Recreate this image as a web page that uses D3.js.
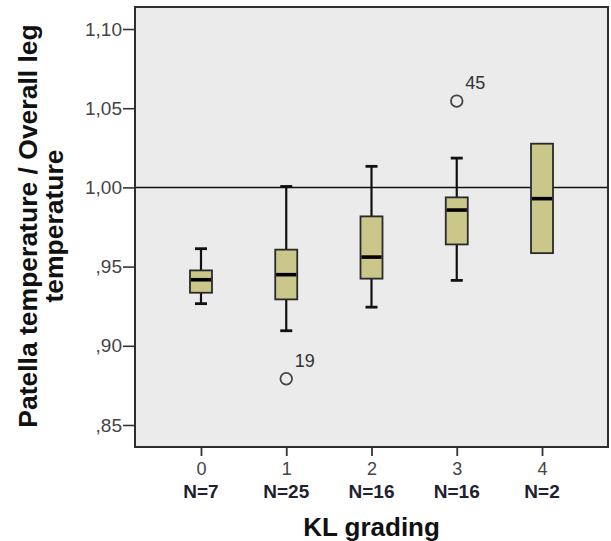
<!DOCTYPE html>
<html>
<head>
<meta charset="utf-8">
<script src="https://cdn.jsdelivr.net/npm/d3@7"></script>
<style>
  html, body { margin: 0; padding: 0; background: #ffffff; }
  svg { display: block; }
</style>
</head>
<body>
<svg id="chart" width="611" height="541"></svg>
<script>
// KL grade groups and their summary statistics
const grades = ["0", "1", "2", "3", "4"];
const counts = [7, 25, 16, 16, 2];
const whiskerLow  = [0.9266, 0.9095, 0.9244, 0.9413, null];
const q1          = [0.9335, 0.9293, 0.9424, 0.9640, 0.9585];
const medians     = [0.9417, 0.9449, 0.9560, 0.9857, 0.9929];
const q3          = [0.9476, 0.9607, 0.9817, 0.9937, 1.0276];
const whiskerHigh = [0.9613, 1.0006, 1.0133, 1.0185, null];

// Flagged outliers: grade, value, case number
const outlierGrades = ["1", "3"];
const outlierValues = [0.8792, 1.0545];
const outlierCases  = ["19", "45"];

const yTicks = [0.85, 0.90, 0.95, 1.00, 1.05, 1.10];
const yTickLabels = [",85", ",90", ",95", "1,00", "1,05", "1,10"];
const referenceValue = 1.00;

const svg = d3.select("#chart");
const plotLeft = 135, plotRight = 608, plotTop = 7, plotBottom = 447;
const font = "Liberation Sans, Arial, sans-serif";

const y = d3.scaleLinear().domain([0.8361, 1.1139]).range([plotBottom, plotTop]);
const x = d3.scalePoint().domain(grades).range([plotLeft, plotRight]).padding(0.774);

// plot background
svg.append("rect")
  .attr("x", plotLeft).attr("y", plotTop)
  .attr("width", plotRight - plotLeft).attr("height", plotBottom - plotTop)
  .attr("fill", "#ebebeb");

// reference line at ratio 1
svg.append("line")
  .attr("x1", plotLeft).attr("x2", plotRight)
  .attr("y1", y(referenceValue)).attr("y2", y(referenceValue))
  .attr("stroke", "#111").attr("stroke-width", 1.5);

// y axis
const yAxis = d3.axisLeft(y)
  .tickValues(yTicks)
  .tickFormat((d, i) => yTickLabels[i])
  .tickSize(12).tickPadding(1);
const gy = svg.append("g").attr("transform", `translate(${plotLeft},0)`).call(yAxis);
gy.select(".domain").remove();
gy.selectAll(".tick line").attr("stroke", "#333").attr("stroke-width", 1.6);
gy.selectAll(".tick text")
  .attr("font-family", font)
  .attr("font-size", 19).attr("fill", "#444");

// x axis
const xAxis = d3.axisBottom(x).tickSize(9).tickPadding(6);
const gx = svg.append("g").attr("transform", `translate(0,${plotBottom})`).call(xAxis);
gx.select(".domain").remove();
gx.selectAll(".tick line").attr("stroke", "#333").attr("stroke-width", 1.8);
gx.selectAll(".tick text")
  .attr("font-family", font)
  .attr("font-size", 18).attr("fill", "#444");

// group sizes under the categories
svg.append("g").selectAll("text")
  .data(grades)
  .join("text")
  .attr("x", d => x(d))
  .attr("y", 498)
  .attr("text-anchor", "middle")
  .attr("font-family", font)
  .attr("font-weight", "bold")
  .attr("font-size", 19)
  .attr("fill", "#1e2230")
  .text((d, i) => "N=" + counts[i]);

// boxes
const boxW = 22, capW = 12;
const boxes = svg.append("g").selectAll("g")
  .data(grades)
  .join("g");

boxes.each(function(d, i) {
  const g = d3.select(this);
  const cx = x(d);
  if (whiskerHigh[i] !== null) {
    g.append("line").attr("x1", cx).attr("x2", cx)
      .attr("y1", y(whiskerHigh[i])).attr("y2", y(q3[i]))
      .attr("stroke", "#111").attr("stroke-width", 2.2);
    g.append("line").attr("x1", cx - capW / 2).attr("x2", cx + capW / 2)
      .attr("y1", y(whiskerHigh[i])).attr("y2", y(whiskerHigh[i]))
      .attr("stroke", "#111").attr("stroke-width", 2.8);
  }
  if (whiskerLow[i] !== null) {
    g.append("line").attr("x1", cx).attr("x2", cx)
      .attr("y1", y(q1[i])).attr("y2", y(whiskerLow[i]))
      .attr("stroke", "#111").attr("stroke-width", 2.2);
    g.append("line").attr("x1", cx - capW / 2).attr("x2", cx + capW / 2)
      .attr("y1", y(whiskerLow[i])).attr("y2", y(whiskerLow[i]))
      .attr("stroke", "#111").attr("stroke-width", 2.8);
  }
  g.append("rect")
    .attr("x", cx - boxW / 2).attr("width", boxW)
    .attr("y", y(q3[i])).attr("height", y(q1[i]) - y(q3[i]))
    .attr("fill", "#cbc78a").attr("stroke", "#2a2a2a").attr("stroke-width", 1.8);
  g.append("line").attr("x1", cx - boxW / 2 + 0.9).attr("x2", cx + boxW / 2 - 0.9)
    .attr("y1", y(medians[i])).attr("y2", y(medians[i]))
    .attr("stroke", "#000").attr("stroke-width", 3.6);
});

// outliers with case labels
const out = svg.append("g").selectAll("g")
  .data(outlierGrades)
  .join("g");
out.append("circle")
  .attr("cx", d => x(d))
  .attr("cy", (d, i) => y(outlierValues[i]))
  .attr("r", 5.8)
  .attr("fill", "none").attr("stroke", "#444").attr("stroke-width", 1.8);
out.append("text")
  .attr("x", d => x(d) + 8.5)
  .attr("y", (d, i) => y(outlierValues[i]) - 12)
  .attr("font-family", font)
  .attr("font-size", 18).attr("fill", "#333")
  .text((d, i) => outlierCases[i]);

// frame
svg.append("rect")
  .attr("x", plotLeft).attr("y", plotTop)
  .attr("width", plotRight - plotLeft).attr("height", plotBottom - plotTop)
  .attr("fill", "none").attr("stroke", "#2e2e2e").attr("stroke-width", 2);

// axis titles
svg.append("text")
  .attr("x", x("2")).attr("y", 536)
  .attr("text-anchor", "middle")
  .attr("font-family", font)
  .attr("font-weight", "bold").attr("font-size", 26).attr("fill", "#111")
  .text("KL grading");

const yTitle = svg.append("text")
  .attr("transform", "translate(0,226) rotate(-90)")
  .attr("text-anchor", "middle")
  .attr("font-family", font)
  .attr("font-weight", "bold").attr("font-size", 26.5).attr("fill", "#111");
yTitle.append("tspan").attr("x", 0).attr("y", 37).text("Patella temperature / Overall leg");
yTitle.append("tspan").attr("x", 0).attr("y", 63).text("temperature");
</script>
</body>
</html>
